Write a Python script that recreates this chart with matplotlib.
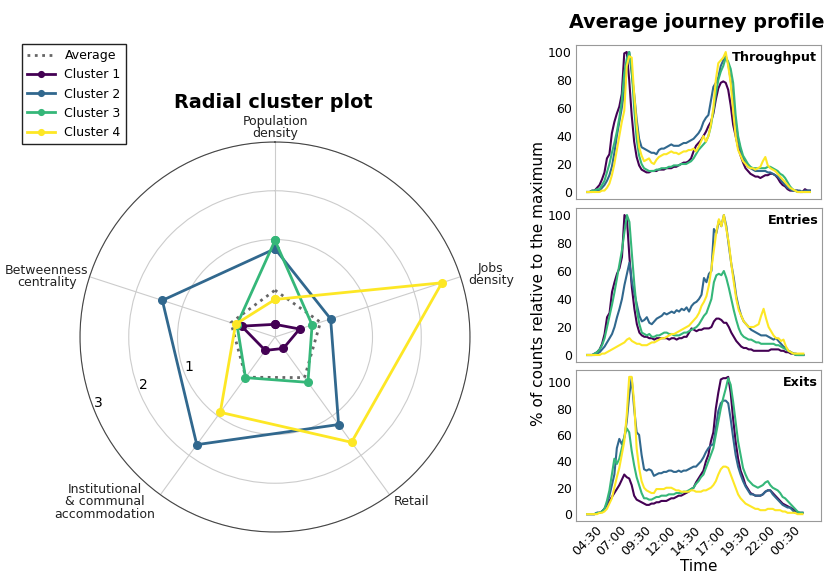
import numpy as np
import matplotlib
matplotlib.use('Agg')
from matplotlib import pyplot as plt

# radial plot data (standardised values)
categories = ['Population\ndensity', 'Jobs\ndensity', 'Retail',
              'Institutional\n& communal\naccommodation', 'Betweenness\ncentrality']
average = [-0.04, -0.02, 0.03, 0.02, -0.05]
cluster1 = [-0.74, -0.47, -0.71, -0.66, -0.28]
cluster2 = [0.81, 0.20, 1.22, 1.73, 1.43]
cluster3 = [0.98, -0.20, 0.15, 0.03, -0.18]
cluster4 = [-0.23, 2.60, 1.67, 0.91, -0.15]
radial_ticks = [1, 2, 3]

# journey profiles, 15 min bins starting 04:30
time_labels = ['04:30', '07:00', '09:30', '12:00', '14:30', '17:00', '19:30', '22:00', '00:30']

thr_c1 = [0, 0, 1, 1, 3, 5, 9, 14, 24, 27, 42, 50, 56, 61, 70, 99, 100, 80, 55, 36,
          25, 19, 16, 15, 14, 14, 15, 15, 15, 16, 16, 16, 17, 17, 17, 18, 18, 19, 20, 21,
          21, 22, 24, 29, 33, 35, 37, 40, 43, 47, 50, 56, 66, 74, 78, 79, 78, 73, 62, 48,
          40, 32, 26, 21, 17, 15, 13, 12, 11, 11, 10, 11, 12, 12, 13, 13, 12, 10, 7, 5,
          4, 2, 1, 1, 1, 1, 0, 0, 2, 1, 1]
thr_c2 = [0, 0, 0, 1, 1, 1, 3, 5, 8, 12, 18, 28, 40, 50, 60, 72, 90, 100, 85, 70,
          52, 38, 32, 31, 30, 29, 28, 28, 27, 30, 31, 31, 32, 33, 34, 33, 33, 33, 34, 35,
          35, 36, 37, 38, 40, 42, 45, 50, 53, 55, 65, 75, 78, 82, 90, 94, 97, 92, 80, 66,
          50, 38, 30, 24, 21, 18, 17, 16, 15, 15, 15, 15, 15, 14, 14, 13, 12, 11, 9, 7,
          5, 3, 2, 1, 1, 1, 1, 0, 1, 1, 1]
thr_c3 = [0, 0, 1, 1, 2, 2, 5, 8, 14, 20, 28, 35, 43, 53, 65, 85, 95, 100, 88, 60,
          38, 26, 20, 17, 16, 15, 15, 15, 16, 16, 17, 17, 17, 18, 18, 19, 19, 19, 20, 20,
          20, 21, 22, 24, 27, 30, 32, 34, 36, 40, 47, 58, 70, 80, 86, 90, 96, 93, 88, 78,
          55, 40, 32, 26, 23, 20, 18, 17, 17, 17, 17, 17, 17, 18, 18, 17, 16, 15, 13, 12,
          10, 7, 4, 2, 1, 0, 0, 0, 0, 0, 0]
thr_c4 = [0, 0, 0, 0, 0, 0, 1, 1, 3, 6, 12, 20, 30, 40, 50, 58, 90, 97, 96, 70,
          48, 32, 26, 22, 23, 24, 21, 20, 23, 25, 26, 27, 27, 28, 29, 28, 28, 27, 28, 29,
          29, 30, 30, 31, 29, 32, 36, 40, 36, 40, 48, 60, 80, 92, 94, 96, 100, 90, 78, 58,
          40, 30, 26, 22, 20, 18, 17, 17, 16, 17, 18, 22, 25, 19, 17, 16, 15, 13, 11, 9,
          7, 5, 3, 2, 1, 0, 0, 0, 0, 0, 0]

ent_c1 = [0, 0, 0, 1, 2, 4, 8, 15, 27, 30, 45, 52, 58, 62, 70, 100, 97, 70, 48, 33,
          22, 16, 14, 13, 13, 12, 12, 11, 12, 12, 12, 12, 12, 11, 12, 12, 11, 12, 12, 13,
          13, 16, 19, 18, 17, 18, 18, 19, 19, 19, 20, 24, 26, 26, 25, 23, 23, 20, 16, 13,
          10, 8, 6, 5, 5, 4, 4, 3, 3, 3, 3, 3, 3, 3, 4, 4, 4, 4, 3, 3,
          2, 2, 1, 1, 0, 0, 0, 0]
ent_c2 = [0, 0, 0, 0, 1, 2, 4, 6, 9, 12, 15, 20, 27, 33, 40, 50, 58, 66, 52, 44,
          36, 28, 24, 25, 27, 23, 22, 24, 26, 27, 28, 30, 29, 30, 31, 30, 32, 31, 33, 32,
          34, 31, 35, 37, 38, 40, 43, 55, 52, 58, 60, 90, 87, 96, 92, 100, 92, 78, 65, 55,
          42, 34, 28, 24, 22, 20, 18, 17, 16, 15, 14, 14, 14, 13, 12, 11, 12, 10, 8, 6,
          5, 3, 2, 1, 1, 0, 0, 0]
ent_c3 = [0, 0, 0, 1, 2, 4, 7, 12, 20, 28, 36, 45, 55, 65, 75, 88, 100, 95, 72, 50,
          32, 22, 16, 15, 14, 15, 13, 13, 14, 14, 15, 16, 16, 15, 15, 14, 14, 14, 15, 16,
          16, 17, 18, 19, 20, 22, 25, 28, 30, 35, 40, 52, 57, 58, 57, 60, 55, 48, 40, 32,
          25, 19, 15, 13, 12, 11, 11, 10, 9, 9, 8, 8, 8, 8, 8, 8, 7, 7, 6, 5,
          4, 3, 2, 1, 0, 0, 0, 0]
ent_c4 = [0, 0, 0, 0, 0, 0, 1, 1, 2, 3, 4, 5, 6, 7, 8, 9, 11, 12, 10, 9,
          8, 8, 7, 7, 7, 8, 9, 9, 10, 11, 12, 12, 13, 14, 15, 15, 16, 17, 18, 19,
          20, 21, 23, 25, 27, 30, 35, 38, 42, 50, 62, 75, 88, 97, 92, 100, 90, 80, 65, 52,
          40, 32, 28, 24, 22, 20, 20, 20, 21, 22, 28, 33, 26, 20, 17, 14, 12, 12, 10, 11,
          6, 3, 2, 1, 1, 1, 1, 1]

exi_c1 = [0, 0, 0, 0, 1, 1, 2, 4, 7, 10, 13, 16, 19, 22, 26, 30, 28, 27, 22, 14,
          11, 10, 9, 8, 7, 7, 8, 8, 9, 9, 10, 10, 10, 11, 12, 12, 13, 14, 14, 15,
          16, 17, 19, 20, 24, 27, 30, 33, 40, 45, 55, 62, 80, 92, 102, 103, 103, 104, 92, 72,
          55, 42, 33, 28, 22, 19, 16, 15, 14, 14, 14, 15, 17, 18, 18, 16, 14, 12, 10, 8,
          7, 6, 5, 4, 3, 1, 1, 1]
exi_c2 = [0, 0, 0, 0, 1, 1, 2, 4, 8, 14, 22, 30, 50, 57, 53, 58, 70, 90, 103, 80,
          62, 60, 45, 34, 33, 34, 33, 29, 30, 31, 31, 32, 32, 33, 33, 32, 32, 33, 32, 33,
          33, 34, 35, 36, 36, 38, 40, 43, 47, 50, 52, 53, 65, 78, 84, 86, 86, 84, 72, 58,
          45, 36, 30, 25, 21, 18, 15, 15, 14, 14, 14, 15, 17, 18, 18, 15, 13, 11, 9, 7,
          6, 5, 5, 3, 1, 1, 1, 1]
exi_c3 = [0, 0, 0, 0, 1, 1, 2, 4, 10, 18, 30, 42, 38, 42, 50, 58, 65, 62, 48, 37,
          28, 22, 16, 12, 12, 11, 11, 12, 13, 13, 14, 14, 14, 15, 15, 15, 16, 16, 16, 17,
          17, 18, 19, 20, 23, 25, 28, 30, 35, 40, 45, 50, 60, 70, 80, 88, 95, 103, 98, 85,
          70, 55, 45, 35, 30, 26, 24, 22, 21, 20, 21, 22, 24, 25, 22, 20, 19, 18, 16, 13,
          12, 10, 8, 6, 4, 2, 1, 1]
exi_c4 = [0, 0, 0, 0, 0, 1, 1, 2, 4, 8, 12, 20, 28, 35, 45, 55, 75, 104, 104, 85,
          50, 35, 25, 20, 18, 17, 16, 16, 19, 19, 19, 19, 20, 20, 20, 19, 18, 18, 17, 17,
          17, 17, 18, 18, 17, 17, 17, 18, 18, 19, 20, 22, 25, 30, 34, 36, 36, 35, 30, 25,
          20, 15, 12, 10, 8, 7, 6, 5, 4, 4, 3, 3, 3, 4, 4, 4, 3, 3, 3, 2,
          2, 1, 1, 1, 1, 0, 0, 0]

colors = ['#440154', '#31688e', '#35b779', '#fde725']
names = ['Cluster 1', 'Cluster 2', 'Cluster 3', 'Cluster 4']

fig = plt.figure(figsize=(8.3, 5.79), dpi=100)

# ---- radial plot ----
ax = fig.add_axes([80/830, 47/579, 390/830, 390/579], projection='polar')
ax.set_theta_offset(np.pi/2)
ax.set_theta_direction(-1)
angles = np.linspace(0, 2*np.pi, len(categories), endpoint=False)
closed = np.append(angles, angles[0])

def close(v):
    return np.append(v, v[0])

ax.plot(closed, close(average), ':', color='#666666', lw=2, label='Average')
for vals, c, n in zip([cluster1, cluster2, cluster3, cluster4], colors, names):
    ax.plot(closed, close(vals), '-o', color=c, lw=2, ms=5.5, label=n)

ax.set_ylim(-1, 3)
ax.set_yticks(radial_ticks)
ax.set_yticklabels([str(t) for t in radial_ticks], fontsize=10)
ax.set_rlabel_position(248)
ax.set_xticks(angles)
ax.set_xticklabels([])
ax.grid(color='#cccccc', lw=0.8)
ax.spines['polar'].set_color('#444444')
ax.spines['polar'].set_linewidth(0.8)
ax.tick_params(axis='x', length=0)

# label placement: (radius, ha, va) per category
label_pos = [(3.04, 'center', 'bottom'), (3.16, 'left', 'center'), (3.16, 'left', 'center'),
             (3.18, 'right', 'center'), (3.02, 'right', 'center')]
for a, lab, (r, ha, va) in zip(angles, categories, label_pos):
    ax.text(a, r, lab, ha=ha, va=va, fontsize=9, color='#222222',
            multialignment='center', linespacing=0.95)

fig.text(273/830, 1 - 102/579, 'Radial cluster plot', ha='center', va='center',
         fontsize=13.8, fontweight='bold')

fig.legend(loc='upper left', bbox_to_anchor=(22/830, 1 - 44/579), borderaxespad=0,
           fontsize=9, fancybox=False, edgecolor='#222222', framealpha=1,
           handlelength=2.2, markerscale=0.75)

# ---- journey profiles ----
panels = [('Throughput', [thr_c1, thr_c2, thr_c3, thr_c4], [576, 45, 821, 199]),
          ('Entries', [ent_c1, ent_c2, ent_c3, ent_c4], [576, 208, 822, 362]),
          ('Exits', [exi_c1, exi_c2, exi_c3, exi_c4], [576, 370, 821, 521])]
axes = []
for title, series, (x0, y0, x1, y1) in panels:
    a = fig.add_axes([x0/830, 1 - y1/579, (x1 - x0)/830, (y1 - y0)/579],
                     sharex=axes[0] if axes else None)
    for s, c in zip(series, colors):
        a.plot(np.arange(len(s)), s, color=c, lw=1.5)
    a.set_yticks([0, 20, 40, 60, 80, 100])
    a.tick_params(length=0, labelsize=9, pad=3)
    for sp in a.spines.values():
        sp.set_color('#999999')
    a.text(0.985, 0.96, title, transform=a.transAxes, ha='right', va='top',
           fontsize=9.2, fontweight='bold')
    axes.append(a)

for a in axes[:-1]:
    a.tick_params(labelbottom=False)
axes[-1].set_xticks(np.arange(0, 90, 10))
axes[-1].set_xticklabels(time_labels, rotation=45)
axes[-1].tick_params(axis='x', pad=2)
axes[-1].set_xlabel('Time', fontsize=11, labelpad=0)

fig.text(538/830, 1 - 283/579, '% of counts relative to the maximum', rotation=90,
         ha='center', va='center', fontsize=11)
fig.text(697/830, 1 - 22/579, 'Average journey profile', ha='center', va='center',
         fontsize=13.8, fontweight='bold')

fig.savefig('out.png', dpi=100)
